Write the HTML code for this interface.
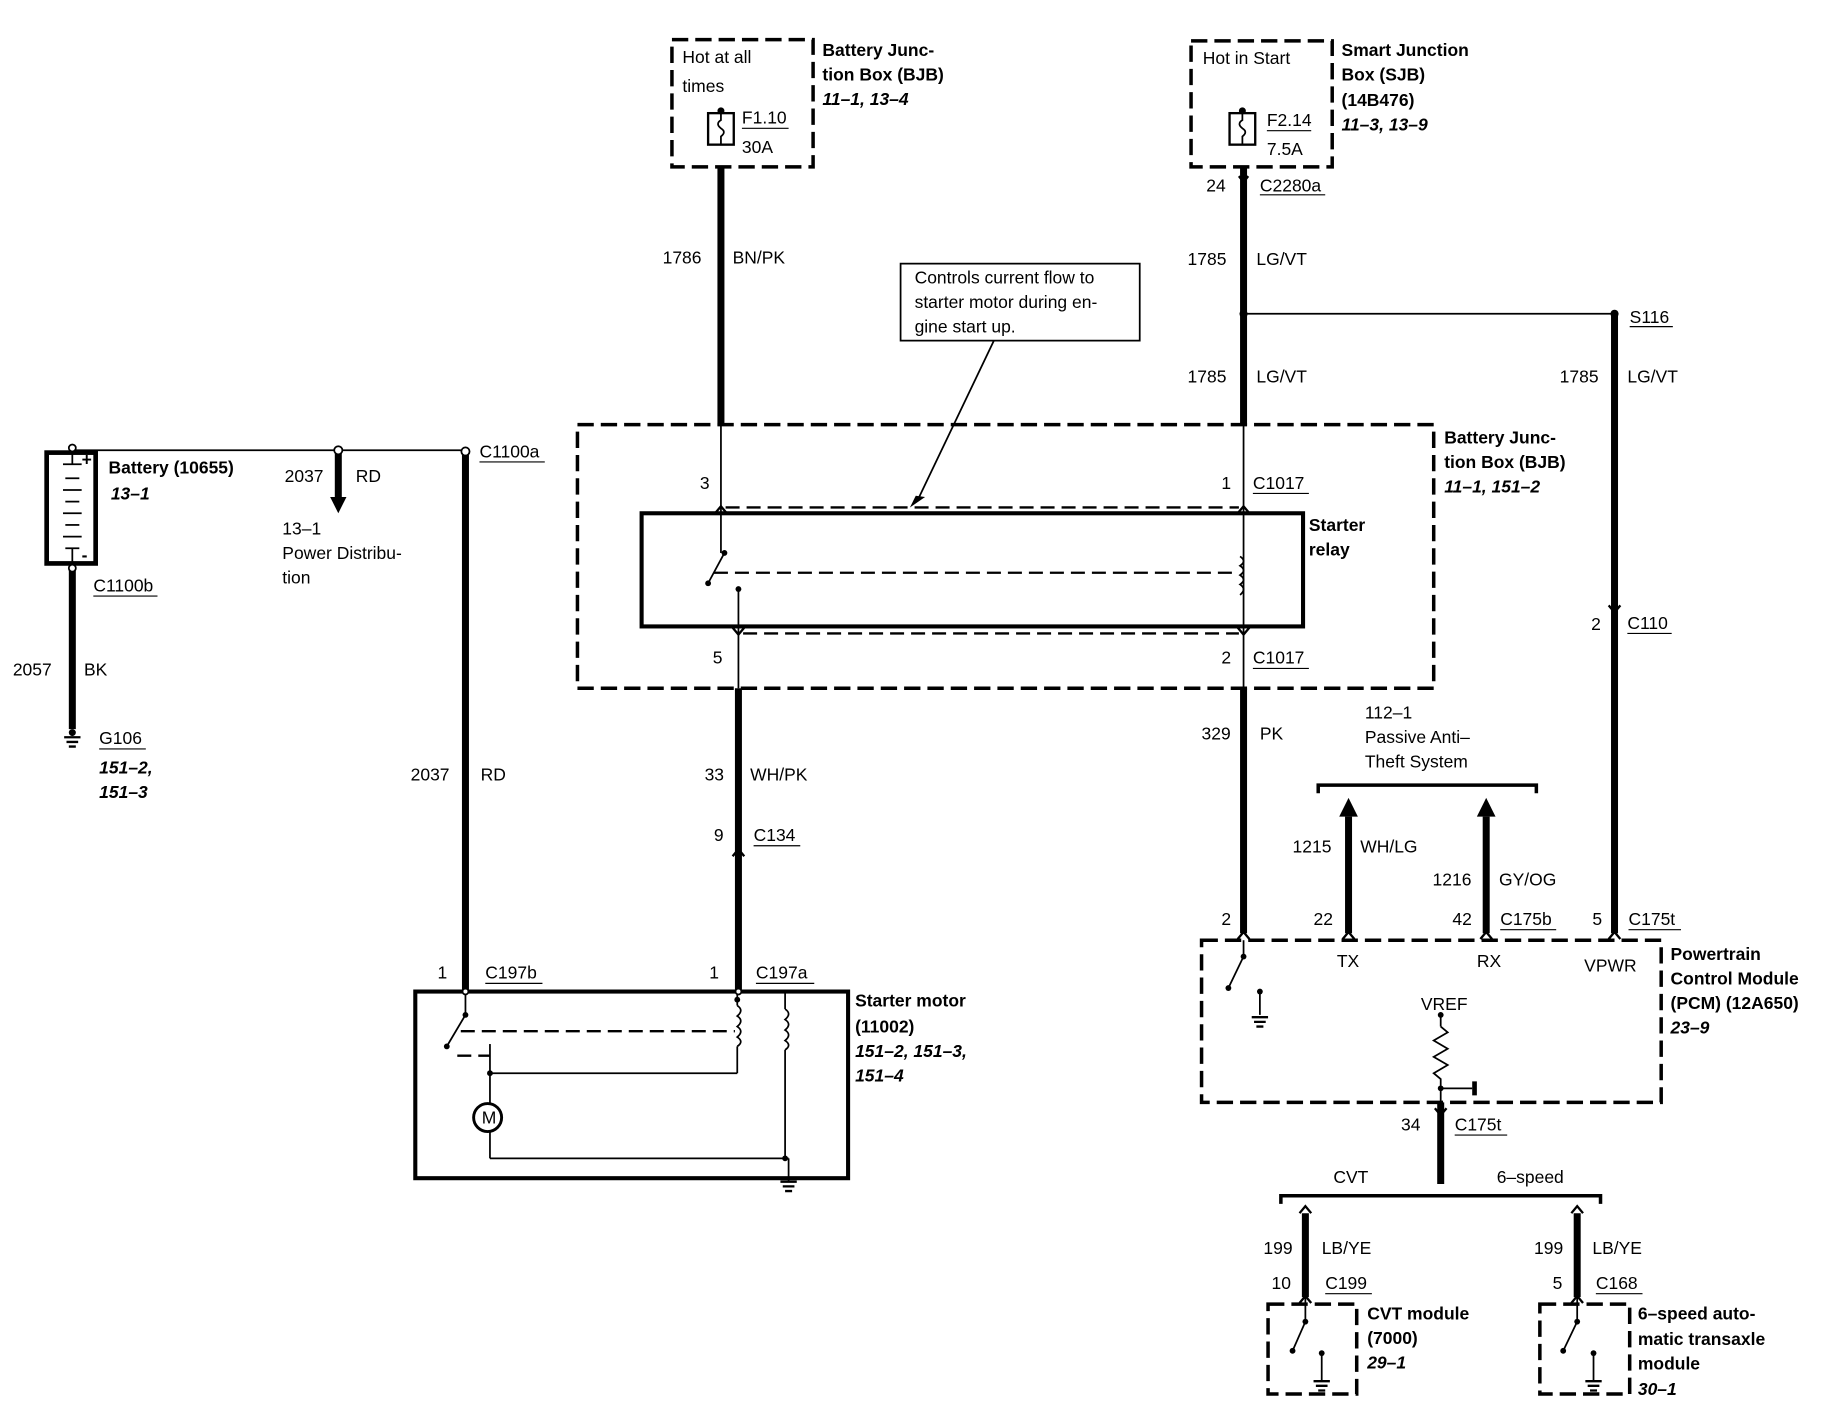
<!DOCTYPE html>
<html><head><meta charset="utf-8"><style>
html,body{margin:0;padding:0;background:#fff;}
svg{display:block;}
text{font-family:"Liberation Sans",sans-serif;font-size:15px;fill:#000;}
.b{font-weight:bold;}
.bi{font-weight:bold;font-style:italic;}
</style></head><body>
<svg width="1828" height="1408" viewBox="0 0 1567 1207" preserveAspectRatio="none" xmlns="http://www.w3.org/2000/svg">
<g fill="none" stroke="#000">
<g stroke-width="3" stroke-dasharray="14,6">
<rect x="576" y="34" width="121" height="109"/>
<rect x="1021" y="35" width="121" height="108"/>
<rect x="495" y="364" width="734" height="226"/>
<rect x="1030" y="806" width="394" height="139"/>
<rect x="1087" y="1118" width="76" height="77"/>
<rect x="1320" y="1118" width="77" height="77"/>
</g>
<g stroke-width="6">
<line x1="618" y1="143" x2="618" y2="365"/>
<line x1="1066" y1="143" x2="1066" y2="365"/>
<line x1="1384" y1="269" x2="1384" y2="800"/>
<line x1="633" y1="590" x2="633" y2="850"/>
<line x1="399" y1="387" x2="399" y2="850"/>
<line x1="62" y1="487" x2="62" y2="625"/>
<line x1="1066" y1="590" x2="1066" y2="800"/>
<line x1="1156" y1="700" x2="1156" y2="800"/>
<line x1="1274" y1="700" x2="1274" y2="800"/>
<line x1="290" y1="386" x2="290" y2="428"/>
<line x1="1235" y1="945" x2="1235" y2="1015"/>
<line x1="1119" y1="1040" x2="1119" y2="1112"/>
<line x1="1352" y1="1040" x2="1352" y2="1112"/>
</g>
<g stroke-width="1.5">
<line x1="618" y1="365" x2="618" y2="474"/>
<line x1="1066" y1="365" x2="1066" y2="590"/>
<line x1="633" y1="505" x2="633" y2="590"/>
<line x1="1066" y1="269" x2="1384" y2="269"/>
<line x1="62" y1="386" x2="399" y2="386"/>
<line x1="852" y1="292" x2="787" y2="428"/>
<line x1="621" y1="474" x2="607" y2="500"/>
<line x1="1066" y1="806" x2="1066" y2="820"/>
<line x1="1066" y1="820" x2="1053" y2="847"/>
<line x1="1080" y1="850" x2="1080" y2="870"/>
<line x1="1235" y1="870" x2="1235" y2="880"/>
<polyline points="1235,880 1241,885 1229,892 1241,899 1229,906 1241,913 1229,920 1235,925 1235,945"/>
<line x1="1235" y1="933" x2="1262" y2="933"/>
<line x1="1119" y1="1112" x2="1119" y2="1133"/>
<line x1="1119" y1="1133" x2="1108" y2="1158"/>
<line x1="1133" y1="1160" x2="1133" y2="1183"/>
<line x1="1352" y1="1112" x2="1352" y2="1133"/>
<line x1="1352" y1="1133" x2="1340" y2="1158"/>
<line x1="1366" y1="1160" x2="1366" y2="1183"/>
<line x1="399" y1="850" x2="399" y2="870"/>
<line x1="399" y1="870" x2="383" y2="897"/>
<line x1="420" y1="895" x2="420" y2="946"/>
<line x1="420" y1="970" x2="420" y2="993"/>
<line x1="420" y1="920" x2="632" y2="920"/>
<line x1="632" y1="850" x2="632" y2="862"/>
<line x1="632" y1="897" x2="632" y2="920"/>
<line x1="673" y1="850" x2="673" y2="865"/>
<line x1="673" y1="900" x2="673" y2="993"/>
<line x1="420" y1="993" x2="676" y2="993"/>
<line x1="676" y1="993" x2="676" y2="1012"/>
<path d="M632,862 q6,4 0,9 q6,4 0,9 q6,4 0,9 q6,4 0,8"/>
<path d="M673,865 q6,4 0,9 q6,4 0,9 q6,4 0,9 q6,4 0,8"/>
<path d="M1063,477 q6,4 0,8 q6,4 0,8 q6,4 0,8 q6,4 0,9"/>
</g>
<g stroke-width="2" stroke-dasharray="12,6">
<line x1="622" y1="435" x2="1062" y2="435"/>
<line x1="637" y1="543" x2="1062" y2="543"/>
<line x1="612" y1="491" x2="1060" y2="491"/>
<line x1="395" y1="884" x2="630" y2="884"/>
<line x1="392" y1="905" x2="420" y2="905"/>
</g>
<rect x="550" y="440" width="567" height="97" stroke-width="3.5"/>
<rect x="356" y="850" width="371" height="160" stroke-width="3.5"/>
<rect x="40" y="388" width="42" height="95" stroke-width="4"/>
<rect x="772" y="226" width="205" height="66" stroke-width="1.5"/>
<rect x="607" y="97" width="22" height="27" stroke-width="2"/>
<path d="M618,97 v6 q-5,3 0,7 q5,3 0,7 v7" stroke-width="1.5"/>
<rect x="1054" y="97" width="22" height="27" stroke-width="2"/>
<path d="M1065,97 v6 q-5,3 0,7 q5,3 0,7 v7" stroke-width="1.5"/>
<path d="M1130,680 v-7 h187 v7" stroke-width="3"/>
<path d="M1098,1032 v-7 h274 v7" stroke-width="3"/>
<g stroke-width="2">
<path d="M613,440 l5,-6 l5,6"/><path d="M1061,440 l5,-6 l5,6"/>
<path d="M628,538 l5,6 l5,-6"/><path d="M1061,538 l5,6 l5,-6"/>
<path d="M1379,519 l5,6 l5,-6"/>
<path d="M628,734 l5,-6 l5,6"/>
<path d="M1061,805 l5,-6 l5,6"/><path d="M1151,805 l5,-6 l5,6"/><path d="M1269,805 l5,-6 l5,6"/><path d="M1379,805 l5,-6 l5,6"/>
<path d="M1230,950 l5,6 l5,-6"/>
<path d="M1114,1040 l5,-6 l5,6"/><path d="M1347,1040 l5,-6 l5,6"/>
<path d="M1114,1117 l5,-6 l5,6"/><path d="M1347,1117 l5,-6 l5,6"/>
<path d="M1062,151 l4,5 l4,-5"/>
</g>
<g stroke-width="1.5">
<line x1="62" y1="384" x2="62" y2="398"/><line x1="54" y1="398" x2="70" y2="398"/>
<line x1="56" y1="410" x2="68" y2="410"/><line x1="54" y1="420" x2="70" y2="420"/>
<line x1="56" y1="430" x2="68" y2="430"/><line x1="54" y1="440" x2="70" y2="440"/>
<line x1="56" y1="450" x2="68" y2="450"/><line x1="54" y1="460" x2="70" y2="460"/>
<line x1="56" y1="470" x2="68" y2="470"/><line x1="62" y1="470" x2="62" y2="487"/>
</g>
<g stroke-width="2">
<path d="M55,632 h14 M57,636 h10 M59,640 h6"/>
<path d="M669,1013 h14 M671,1017 h10 M673,1021 h6"/>
<path d="M1073,872 h14 M1075,876 h10 M1077,880 h6"/>
<path d="M1126,1184 h14 M1128,1188 h10 M1130,1192 h6"/>
<path d="M1359,1184 h14 M1361,1188 h10 M1363,1192 h6"/>
</g>
<circle cx="418" cy="958" r="12" stroke-width="2.5"/>
</g>
<g fill="#000">
<polygon points="283,426 297,426 290,440"/>
<polygon points="1148,700 1164,700 1156,684"/>
<polygon points="1266,700 1282,700 1274,684"/>
<polygon points="780,435 793,426 785,425"/>
<polygon points="1262,927 1262,939 1266,939 1266,927"/>
<circle cx="1066" cy="269" r="3.5"/><circle cx="1384" cy="269" r="3.5"/>
<circle cx="621" cy="474" r="2.5"/><circle cx="607" cy="500" r="2.5"/><circle cx="633" cy="505" r="2.5"/>
<circle cx="1066" cy="820" r="2.5"/><circle cx="1053" cy="847" r="2.5"/><circle cx="1080" cy="850" r="2.5"/>
<circle cx="1235" cy="870" r="2.5"/><circle cx="1235" cy="933" r="2.5"/>
<circle cx="1119" cy="1133" r="2.5"/><circle cx="1108" cy="1158" r="2.5"/><circle cx="1133" cy="1160" r="2.5"/>
<circle cx="1352" cy="1133" r="2.5"/><circle cx="1340" cy="1158" r="2.5"/><circle cx="1366" cy="1160" r="2.5"/>
<circle cx="399" cy="870" r="2.5"/><circle cx="383" cy="897" r="2.5"/><circle cx="420" cy="920" r="2.5"/>
<circle cx="632" cy="857" r="2.5"/><circle cx="673" cy="993" r="2.5"/>
<circle cx="62" cy="628" r="3"/>
<circle cx="618" cy="95" r="3"/><circle cx="1065" cy="95" r="3"/>
</g>
<g fill="#fff" stroke="#000" stroke-width="1.5">
<circle cx="62" cy="384" r="3"/><circle cx="62" cy="487" r="3"/><circle cx="290" cy="386" r="3.5"/><circle cx="399" cy="387" r="3.5"/>
<circle cx="399" cy="850" r="2.5"/><circle cx="633" cy="850" r="2.5"/>
</g>
<g stroke="#000" stroke-width="1">
<line x1="636" y1="110" x2="676" y2="110"/><line x1="1086" y1="112" x2="1124" y2="112"/>
<line x1="1080" y1="167" x2="1136" y2="167"/><line x1="1397" y1="280" x2="1434" y2="280"/>
<line x1="411" y1="396" x2="467" y2="396"/><line x1="80" y1="511" x2="135" y2="511"/>
<line x1="85" y1="642" x2="125" y2="642"/><line x1="1074" y1="423" x2="1122" y2="423"/>
<line x1="1074" y1="573" x2="1122" y2="573"/><line x1="646" y1="725" x2="686" y2="725"/>
<line x1="416" y1="843" x2="465" y2="843"/><line x1="648" y1="843" x2="698" y2="843"/>
<line x1="1395" y1="543" x2="1433" y2="543"/><line x1="1286" y1="797" x2="1334" y2="797"/>
<line x1="1396" y1="797" x2="1441" y2="797"/><line x1="1247" y1="973" x2="1292" y2="973"/>
<line x1="1136" y1="1109" x2="1176" y2="1109"/><line x1="1368" y1="1109" x2="1408" y2="1109"/>
</g>
<text x="585" y="54">Hot at all</text><text x="585" y="79">times</text>
<text x="636" y="106">F1.10</text><text x="636" y="131">30A</text>
<text class="b" x="705" y="48">Battery Junc-</text><text class="b" x="705" y="69">tion Box (BJB)</text><text class="bi" x="705" y="90">11–1, 13–4</text>
<text x="1031" y="55">Hot in Start</text>
<text x="1086" y="108">F2.14</text><text x="1086" y="133">7.5A</text>
<text class="b" x="1150" y="48">Smart Junction</text><text class="b" x="1150" y="69">Box (SJB)</text><text class="b" x="1150" y="91">(14B476)</text><text class="bi" x="1150" y="112">11–3, 13–9</text>
<text x="1034" y="164">24</text><text x="1080" y="164">C2280a</text>
<text x="568" y="226">1786</text><text x="628" y="226">BN/PK</text>
<text x="1018" y="227">1785</text><text x="1077" y="227">LG/VT</text>
<text x="1018" y="328">1785</text><text x="1077" y="328">LG/VT</text>
<text x="1337" y="328">1785</text><text x="1395" y="328">LG/VT</text>
<text x="1397" y="277">S116</text>
<text x="784" y="243">Controls current flow to</text><text x="784" y="264">starter motor during en-</text><text x="784" y="285">gine start up.</text>
<text class="b" x="1238" y="380">Battery Junc-</text><text class="b" x="1238" y="401">tion Box (BJB)</text><text class="bi" x="1238" y="422">11–1, 151–2</text>
<text x="600" y="419">3</text><text x="1047" y="419">1</text><text x="1074" y="419">C1017</text>
<text class="b" x="1122" y="455">Starter</text><text class="b" x="1122" y="476">relay</text>
<text x="611" y="569">5</text><text x="1047" y="569">2</text><text x="1074" y="569">C1017</text>
<text x="1364" y="540">2</text><text x="1395" y="539">C110</text>
<text class="b" x="93" y="406">Battery (10655)</text><text class="bi" x="95" y="428">13–1</text>
<text x="244" y="413">2037</text><text x="305" y="413">RD</text>
<text x="242" y="458">13–1</text><text x="242" y="479">Power Distribu-</text><text x="242" y="500">tion</text>
<text x="411" y="392">C1100a</text><text x="80" y="507">C1100b</text>
<text x="11" y="579">2057</text><text x="72" y="579">BK</text>
<text x="85" y="638">G106</text><text class="bi" x="85" y="663">151–2,</text><text class="bi" x="85" y="684">151–3</text>
<text x="352" y="669">2037</text><text x="412" y="669">RD</text>
<text x="604" y="669">33</text><text x="643" y="669">WH/PK</text>
<text x="612" y="721">9</text><text x="646" y="721">C134</text>
<text x="375" y="839">1</text><text x="416" y="839">C197b</text>
<text x="608" y="839">1</text><text x="648" y="839">C197a</text>
<text class="b" x="733" y="863">Starter motor</text><text class="b" x="733" y="885">(11002)</text><text class="bi" x="733" y="906">151–2, 151–3,</text><text class="bi" x="733" y="927">151–4</text>
<text x="413" y="963" font-size="13">M</text>
<text x="1030" y="634">329</text><text x="1080" y="634">PK</text>
<text x="1170" y="616">112–1</text><text x="1170" y="637">Passive Anti–</text><text x="1170" y="658">Theft System</text>
<text x="1108" y="731">1215</text><text x="1166" y="731">WH/LG</text>
<text x="1228" y="759">1216</text><text x="1285" y="759">GY/OG</text>
<text x="1047" y="793">2</text><text x="1126" y="793">22</text><text x="1245" y="793">42</text><text x="1286" y="793">C175b</text>
<text x="1365" y="793">5</text><text x="1396" y="793">C175t</text>
<text x="1146" y="829">TX</text><text x="1266" y="829">RX</text><text x="1358" y="833">VPWR</text>
<text class="b" x="1432" y="823">Powertrain</text><text class="b" x="1432" y="844">Control Module</text><text class="b" x="1432" y="865">(PCM) (12A650)</text><text class="bi" x="1432" y="886">23–9</text>
<text x="1218" y="866">VREF</text>
<text x="1201" y="969">34</text><text x="1247" y="969">C175t</text>
<text x="1143" y="1014">CVT</text><text x="1283" y="1014">6–speed</text>
<text x="1083" y="1075">199</text><text x="1133" y="1075">LB/YE</text>
<text x="1315" y="1075">199</text><text x="1365" y="1075">LB/YE</text>
<text x="1090" y="1105">10</text><text x="1136" y="1105">C199</text>
<text x="1331" y="1105">5</text><text x="1368" y="1105">C168</text>
<text class="b" x="1172" y="1131">CVT module</text><text class="b" x="1172" y="1152">(7000)</text><text class="bi" x="1172" y="1173">29–1</text>
<text class="b" x="1404" y="1131">6–speed auto-</text><text class="b" x="1404" y="1153">matic transaxle</text><text class="b" x="1404" y="1174">module</text><text class="bi" x="1404" y="1196">30–1</text>
<text x="70" y="399" font-size="10" class="b">+</text><text x="70" y="481" font-size="10" class="b">-</text>
</svg>
</body></html>
